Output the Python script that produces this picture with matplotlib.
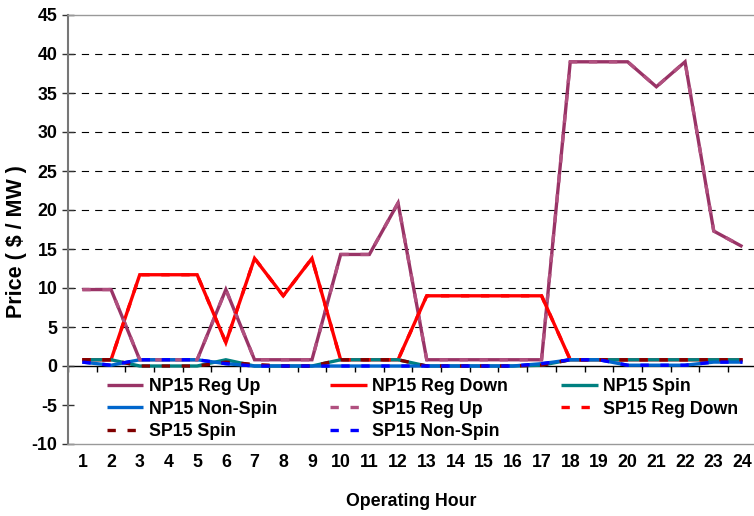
import matplotlib
matplotlib.use("Agg")
import matplotlib.pyplot as plt
import numpy as np

plt.rcParams['font.family'] = ['Liberation Sans', 'DejaVu Sans']
plt.rcParams['font.weight'] = 'bold'

hours = list(range(1, 25))
hour_labels = [str(h) for h in hours]
y_ticks = list(range(-10, 50, 5))

np15_reg_up = [9.8, 9.8, 0.8, 0.8, 0.8, 9.8, 0.8, 0.8, 0.8, 14.3, 14.3, 20.9,
               0.8, 0.8, 0.8, 0.8, 0.8, 39.0, 39.0, 39.0, 35.8, 39.0, 17.3, 15.3]
np15_reg_down = [0.8, 0.8, 11.7, 11.7, 11.7, 3.0, 13.8, 9.0, 13.8, 0.8, 0.8, 0.8,
                 9.0, 9.0, 9.0, 9.0, 9.0, 0.8, 0.8, 0.8, 0.8, 0.8, 0.8, 0.8]
np15_spin = [0.8, 0.8, 0.0, 0.0, 0.0, 0.8, 0.0, 0.0, 0.0, 0.8, 0.8, 0.8,
             0.0, 0.0, 0.0, 0.0, 0.1, 0.8, 0.8, 0.8, 0.8, 0.8, 0.8, 0.8]
np15_nonspin = [0.5, 0.1, 0.8, 0.8, 0.8, 0.3, 0.0, 0.0, 0.0, 0.0, 0.0, 0.0,
                0.0, 0.0, 0.0, 0.0, 0.3, 0.8, 0.8, 0.1, 0.1, 0.1, 0.5, 0.5]
sp15_reg_up = [9.8, 9.8, 0.8, 0.8, 0.8, 9.8, 0.8, 0.8, 0.8, 14.3, 14.3, 20.9,
               0.8, 0.8, 0.8, 0.8, 0.8, 39.0, 39.0, 39.0, 35.8, 39.0, 17.3, 15.3]
sp15_reg_down = [0.8, 0.8, 11.7, 11.7, 11.7, 3.0, 13.8, 9.0, 13.8, 0.8, 0.8, 0.8,
                 9.0, 9.0, 9.0, 9.0, 9.0, 0.8, 0.8, 0.8, 0.8, 0.8, 0.8, 0.8]
sp15_spin = [0.8, 0.8, 0.0, 0.0, 0.0, 0.5, 0.2, 0.0, 0.0, 0.8, 0.8, 0.8,
             0.0, 0.0, 0.0, 0.0, 0.1, 0.8, 0.8, 0.8, 0.8, 0.8, 0.8, 0.8]
sp15_nonspin = [0.5, 0.1, 0.8, 0.8, 0.8, 0.3, 0.0, 0.0, 0.0, 0.0, 0.0, 0.0,
                0.0, 0.0, 0.0, 0.0, 0.3, 0.8, 0.8, 0.1, 0.1, 0.1, 0.5, 0.5]

series = [
    ("NP15 Reg Up", np15_reg_up, "#993366", "-"),
    ("NP15 Reg Down", np15_reg_down, "#FF0000", "-"),
    ("NP15 Spin", np15_spin, "#008080", "-"),
    ("NP15 Non-Spin", np15_nonspin, "#0066CC", "-"),
    ("SP15 Reg Up", sp15_reg_up, "#B0507F", "--"),
    ("SP15 Reg Down", sp15_reg_down, "#FF0000", "--"),
    ("SP15 Spin", sp15_spin, "#800000", "--"),
    ("SP15 Non-Spin", sp15_nonspin, "#0000FF", "--"),
]

W, H = 754, 516
fig = plt.figure(figsize=(W / 100, H / 100), dpi=100)
ax = fig.add_axes([68 / W, 72 / H, 686 / W, 429 / H])

ax.set_xlim(0.5, 0.5 + 686 / 28.7)
ax.set_ylim(-10, 45)

# gridlines (5..40)
for v in y_ticks:
    if 0 < v < 45:
        ax.axhline(v, color="black", lw=0.8, dashes=(6.5, 5.5), zorder=1)

lw = 2.4
handles = []
for name, vals, col, ls in series:
    if ls == "-":
        h, = ax.plot(hours, vals, color=col, lw=lw, solid_capstyle="butt",
                     solid_joinstyle="miter", label=name, zorder=3)
    else:
        h, = ax.plot(hours, vals, color=col, lw=lw, dashes=(2.5, 3.5),
                     dash_capstyle="butt", label=name, zorder=4)
    handles.append(h)

# spines
for s in ["top", "bottom"]:
    ax.spines[s].set_color("#999999")
    ax.spines[s].set_linewidth(1.0)
ax.spines["right"].set_visible(False)
ax.spines["left"].set_color("#777777")
ax.spines["left"].set_linewidth(1.5)

ax.set_yticks(y_ticks)
ax.set_yticklabels([str(v) for v in y_ticks])
ax.tick_params(axis="y", direction="inout", length=9, width=1, color="#333333",
               labelsize=12.8, pad=3)
ax.set_xticks(hours)
ax.set_xticklabels(hour_labels)
ax.tick_params(axis="x", length=0, labelsize=12.8, pad=7)

# zero category axis with boundary ticks
sec = ax.secondary_xaxis(10 / 55)
sec.set_xticks([h + 0.5 for h in hours[:-1]] + [0.5])
sec.tick_params(direction="out", length=4, width=1, color="black", labelbottom=False,
                labeltop=False)
for s in sec.spines.values():
    s.set_visible(False)
sec.spines["bottom"].set_visible(True)
sec.spines["bottom"].set_color("black")
sec.spines["bottom"].set_linewidth(1.0)

ax.set_xlabel("Operating Hour", fontsize=12.8, fontweight="bold", labelpad=16)
ax.set_ylabel("Price ( $ / MW )", fontsize=15.5, fontweight="bold")
ax.yaxis.set_label_coords(-41 / 686, (444 - 242) / 429)

order = [0, 3, 6, 1, 4, 7, 2, 5]
leg = ax.legend([handles[i] for i in order], [series[i][0] for i in order],
                loc="upper left", bbox_to_anchor=(107 / W, 1 - 378 / H),
                bbox_transform=fig.transFigure, ncol=3, frameon=False,
                fontsize=12.8, handlelength=2.05, handletextpad=0.3,
                columnspacing=3.0, labelspacing=0.31, borderpad=0, borderaxespad=0)

fig.savefig("out.png", dpi=100)
